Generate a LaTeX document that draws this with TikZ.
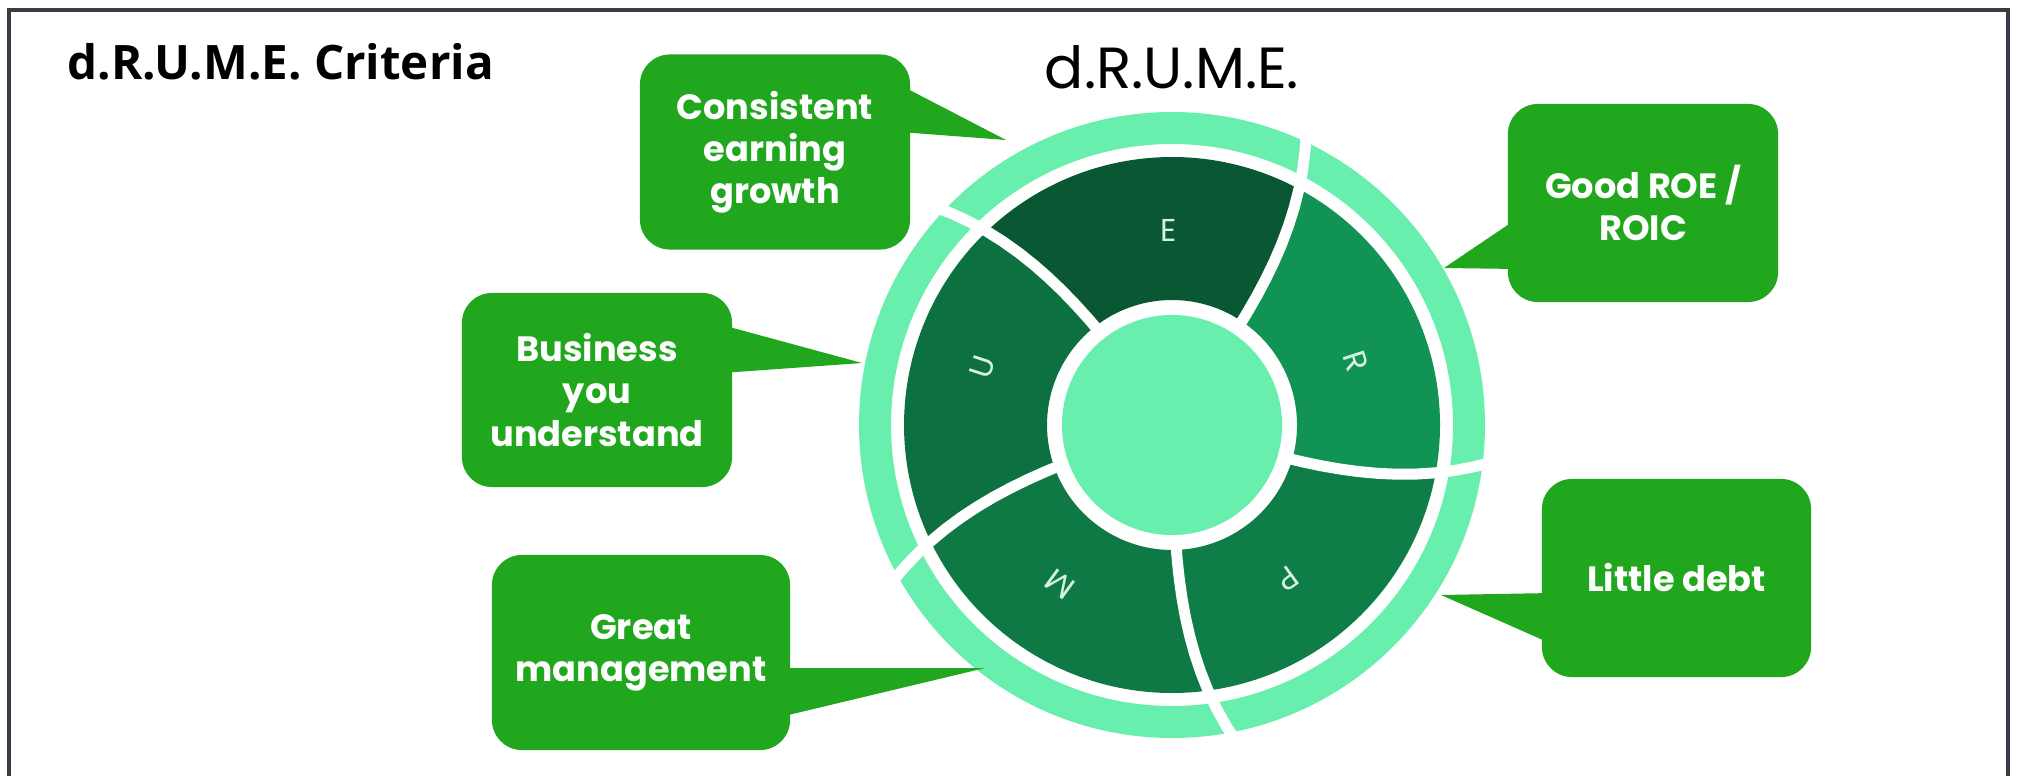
\documentclass[tikz,border=0pt]{standalone}
\usepackage{fontspec}
\setmainfont{Open Sans}
\newfontfamily\poppins{Poppins}
\usetikzlibrary{positioning}

\definecolor{framegray}{RGB}{56,60,68}
\definecolor{bubblegreen}{RGB}{33,167,29}
\definecolor{mint}{RGB}{104,239,174}
\definecolor{segE}{RGB}{9,87,51}
\definecolor{segU}{RGB}{13,112,64}
\definecolor{segM}{RGB}{14,121,69}
\definecolor{segP}{RGB}{14,125,71}
\definecolor{segR}{RGB}{17,147,85}
\definecolor{letterc}{RGB}{214,242,226}

\tikzset{
  bubble/.style={fill=bubblegreen, rounded corners=0.3cm, text=white, align=center,
    inner sep=0pt, font=\poppins\bfseries\fontsize{10}{12}\selectfont},
  pointer/.style={fill=bubblegreen},
  divider/.style={draw=white, line width=0.11cm},
  seglabel/.style={text=letterc, inner sep=0pt, font=\poppins\fontsize{9}{10}\selectfont}
}

\begin{document}
\begin{tikzpicture}[x=0.01cm, y=0.01cm,
    declare function={tw(\r)=0.02*(\r-125)+1.4*((\r-125)/100)^2;}]
  \useasboundingbox (0,0) rectangle (2022,-776);
  % frame, open at the bottom
  \draw[framegray, line width=0.04cm] (9,-776) -- (9,-10) -- (2008,-10) -- (2008,-776);

  \node[anchor=base west, font=\bfseries\fontsize{13.5}{16}\selectfont] (title) at (55,-80) {d.R.U.M.E. Criteria};
  \node[anchor=base, font=\poppins\fontsize{16.5}{19}\selectfont] (head) at (1172,-89) {d.R.U.M.E.};

  % the wheel
  \begin{scope}[shift={(1172,-425)}]
    \fill[mint, even odd rule] (0,0) circle[radius=313] (0,0) circle[radius=281];

    \fill[segE] plot[domain=125:268, samples=10] ({56+tw(\x)}:\x)
      arc[start angle={56+tw(268)}, end angle={128+tw(268)}, radius=268]
      -- plot[domain=268:125, samples=10] ({128+tw(\x)}:\x)
      arc[start angle=128, end angle=56, radius=125] -- cycle;
    \fill[segU] plot[domain=125:268, samples=10] ({128+tw(\x)}:\x)
      arc[start angle={128+tw(268)}, end angle={200+tw(268)}, radius=268]
      -- plot[domain=268:125, samples=10] ({200+tw(\x)}:\x)
      arc[start angle=200, end angle=128, radius=125] -- cycle;
    \fill[segM] plot[domain=125:268, samples=10] ({200+tw(\x)}:\x)
      arc[start angle={200+tw(268)}, end angle={272+tw(268)}, radius=268]
      -- plot[domain=268:125, samples=10] ({272+tw(\x)}:\x)
      arc[start angle=272, end angle=200, radius=125] -- cycle;
    \fill[segP] plot[domain=125:268, samples=10] ({272+tw(\x)}:\x)
      arc[start angle={272+tw(268)}, end angle={344+tw(268)}, radius=268]
      -- plot[domain=268:125, samples=10] ({344+tw(\x)}:\x)
      arc[start angle=344, end angle=272, radius=125] -- cycle;
    \fill[segR] plot[domain=125:268, samples=10] ({344+tw(\x)}:\x)
      arc[start angle={344+tw(268)}, end angle={416+tw(268)}, radius=268]
      -- plot[domain=268:125, samples=10] ({416+tw(\x)}:\x)
      arc[start angle=416, end angle=344, radius=125] -- cycle;

    % white cuts through both rings
    \draw[divider] plot[domain=117:325, samples=12] ({56+tw(\x)}:\x);
    \draw[divider] plot[domain=117:325, samples=12] ({128+tw(\x)}:\x);
    \draw[divider] plot[domain=117:325, samples=12] ({200+tw(\x)}:\x);
    \draw[divider] plot[domain=117:325, samples=12] ({272+tw(\x)}:\x);
    \draw[divider] plot[domain=117:325, samples=12] ({344+tw(\x)}:\x);

    \node[circle, fill=mint, inner sep=0pt, minimum size=2.2cm] (hub) at (0,0) {};

    \node[seglabel] (lE) at (91:195) {E};
    \node[seglabel, rotate=72] (lU) at (163:198) {U};
    \node[seglabel, rotate=144] (lM) at (235:195) {M};
    \node[seglabel, rotate=216] (lP) at (307:192) {P};
    \node[seglabel, rotate=-72] (lR) at (19:195) {R};
  \end{scope}

  % speech bubbles
  \coordinate (tipC) at (1006,-140);
  \coordinate (tipB) at (862,-363);
  \coordinate (tipG) at (985,-668);
  \coordinate (tipR) at (1444,-268);
  \coordinate (tipL) at (1441,-595);

  \fill[pointer] (900,-85) -- (tipC) -- (900,-132) -- cycle;
  \fill[pointer] (722,-325) -- (tipB) -- (722,-373) -- cycle;
  \fill[pointer] (780,-668) -- (tipG) -- (780,-717) -- cycle;
  \fill[pointer] (1518,-218) -- (tipR) -- (1518,-269) -- cycle;
  \fill[pointer] (1552,-593) -- (tipL) -- (1552,-644) -- cycle;

  \node[bubble, minimum width=2.7cm, minimum height=1.95cm] (cons) at (775,-152) {Consistent\\earning\\growth};
  \node[bubble, minimum width=2.7cm, minimum height=1.94cm] (biz) at (597,-390) {Business\\you\\understand};
  \node[bubble, minimum width=2.98cm, minimum height=1.95cm] (mgmt) at (641,-652.5) {Great\\management};
  \node[bubble, minimum width=2.7cm, minimum height=1.98cm] (roe) at (1643,-203) {Good ROE /\\ROIC};
  \node[bubble, minimum width=2.69cm, minimum height=1.98cm] (debt) at (1676.5,-578) {Little debt};
\end{tikzpicture}
\end{document}
